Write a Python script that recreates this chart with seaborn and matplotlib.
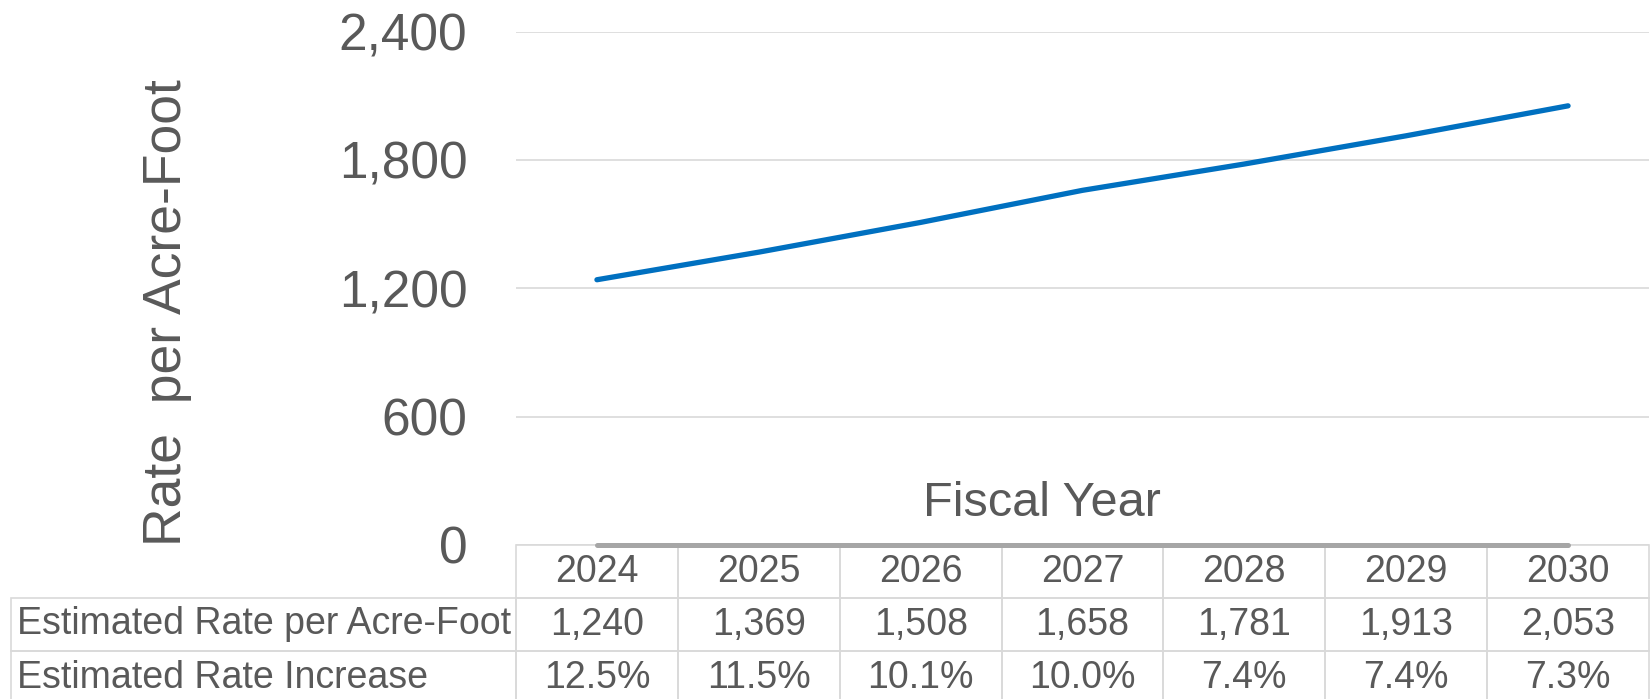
import numpy as np
import pandas as pd
import matplotlib
matplotlib.use("Agg")
import matplotlib.pyplot as plt
from matplotlib.ticker import FuncFormatter
import seaborn as sns

# Fiscal years and the projected rate data
years = ["2024", "2025", "2026", "2027", "2028", "2029", "2030"]
rate_per_af = [1240, 1369, 1508, 1658, 1781, 1913, 2053]
rate_increase = ["12.5%", "11.5%", "10.1%", "10.0%", "7.4%", "7.4%", "7.3%"]
row_labels = ["Estimated Rate per Acre-Foot", "Estimated Rate Increase"]
y_ticks = [0, 600, 1200, 1800, 2400]

TEXT = "#595959"
LINE = "#0070C0"
GRID = "#D9D9D9"
AXIS = "#A6A6A6"

sns.set_theme(style="white")
plt.rcParams["font.family"] = ["Liberation Sans", "DejaVu Sans"]

W, H = 1651, 699
fig = plt.figure(figsize=(W / 100, H / 100), dpi=100)

# plot area in pixel terms
left_px, right_px, top_px, bottom_px = 516, 1649, 31.6, 545
ax = fig.add_axes([left_px / W, 1 - bottom_px / H,
                   (right_px - left_px) / W, (bottom_px - top_px) / H])

df = pd.DataFrame({"year": years, "rate": rate_per_af})
sns.lineplot(data=df, x="year", y="rate", ax=ax, color=LINE, linewidth=3.8,
             sort=False, solid_capstyle="round", zorder=4)

ax.set_xlim(-0.5, len(years) - 0.5)
ax.set_ylim(y_ticks[0], y_ticks[-1])
ax.set_yticks(y_ticks)
ax.yaxis.set_major_formatter(FuncFormatter(lambda v, _: f"{int(v):,}"))
ax.tick_params(axis="y", labelsize=37, colors=TEXT, length=0, pad=35)
ax.tick_params(axis="x", length=0, labelbottom=False)
ax.set_xlabel("")
ax.set_ylabel("")
ax.grid(axis="y", color=GRID, linewidth=1.2)
ax.grid(axis="x", visible=False)
for s in ax.spines.values():
    s.set_visible(False)

# category axis line between first and last category
ax.hlines(0, 0, len(years) - 1, colors=AXIS, linewidth=3.6,
          capstyle="round", zorder=5, clip_on=False)

# data table under the plot: year header row, then two data rows;
# the bbox covers the data grid, the row-label column sits to its left
ax_w = right_px - left_px
ax_h = bottom_px - top_px
label_w = (left_px - 10.5) / ax_w
row_h = 53 / ax_h
tbl = ax.table(cellText=[[f"{v:,}" for v in rate_per_af], rate_increase],
               colLabels=years,
               colWidths=[1 / len(years)] * len(years),
               cellLoc="center", colLoc="center",
               bbox=[0, -3 * row_h, 1, 3 * row_h])
cell_h = tbl[1, 0].get_height()
for i, lab in enumerate(row_labels, start=1):
    c = tbl.add_cell(i, -1, width=label_w, height=cell_h, text=lab, loc="left")
    c.PAD = 6.5 / (left_px - 10.5)
tbl.auto_set_font_size(False)
tbl.set_fontsize(27)
for (r, c), cell in tbl.get_celld().items():
    cell.set_edgecolor(GRID)
    cell.set_linewidth(1.2)
    cell.set_facecolor("none")
    cell.get_text().set_color(TEXT)

# axis titles
fig.text(1042 / W, 1 - 516 / H, "Fiscal Year", fontsize=35, color=TEXT,
         ha="center", va="baseline")
fig.text(167 / W, 1 - 313 / H, "Rate  per Acre-Foot", fontsize=38.5, color=TEXT,
         ha="center", va="center", rotation=90)

fig.savefig("out.png", dpi=100)
